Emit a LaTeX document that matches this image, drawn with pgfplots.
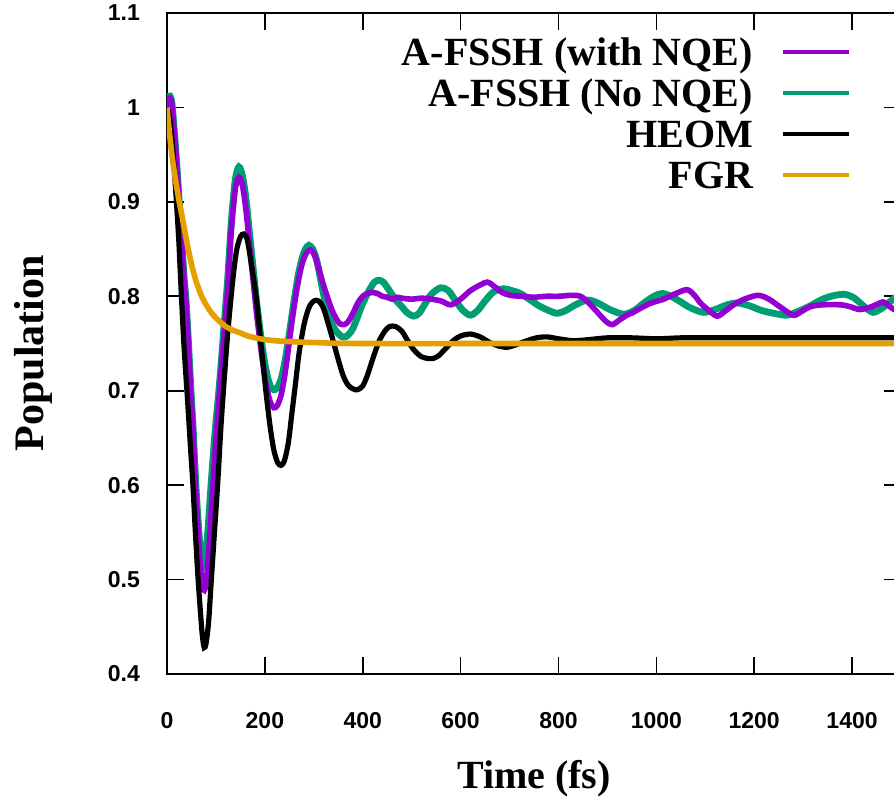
\documentclass[border=0pt]{standalone}
\usepackage{pgfplots}
\pgfplotsset{compat=1.18}
\usepackage{fontspec}
\setmainfont{Liberation Serif}
\newfontfamily\tickfont{Liberation Sans}
\definecolor{cpurple}{HTML}{9400D3}
\definecolor{cgreen}{HTML}{009E73}
\definecolor{corange}{HTML}{E69F00}
\begin{document}
\begin{tikzpicture}
\begin{axis}[
  at={(0,0)}, anchor=south west,
  scale only axis, width=367pt, height=330.5pt,
  xmin=0, xmax=1500, ymin=0.4, ymax=1.1,
  xtick={0,200,400,600,800,1000,1200,1400},
  ytick={0.4,0.5,0.6,0.7,0.8,0.9,1,1.1},
  tick align=inside, major tick length=8.5pt,
  every tick/.style={black, line width=0.8pt},
  axis line style={line width=1.2pt},
  /pgf/number format/assume math mode=true,
  /pgf/number format/set thousands separator={},
  ticklabel style={font=\tickfont\bfseries\fontsize{11.5}{13}\selectfont},
  xticklabel style={yshift=-15.5pt},
  yticklabel style={xshift=-10pt},
  xlabel={\bfseries Time (fs)},
  ylabel={\bfseries Population},
  xlabel style={font=\fontsize{20}{24}\selectfont, at={(axis description cs:0.5,0)}, anchor=base, yshift=-57pt},
  ylabel style={font=\fontsize{21}{25}\selectfont, at={(axis description cs:-0.1826,0.4856)}, anchor=center},
  legend plot pos=right,
  legend cell align=right,
  legend style={draw=none, fill=none, at={(axis description cs:0.9319,0.972)}, anchor=north east,
     inner sep=0pt, outer sep=0pt, column sep=14pt, row sep=0pt,
     font=\bfseries\fontsize{20}{24}\selectfont,
     nodes={inner sep=0pt, text height=16.75pt, text depth=3.75pt}},
  legend image code/.code={\draw[#1, line width=2pt] (0pt,0pt) -- (33pt,0pt);},
]
% green: A-FSSH (No NQE)
\addplot[cgreen, line width=3.4pt, smooth, tension=0.5, forget plot] coordinates {
(0,1.000)(3,1.010)(6,1.012)(10,1.005)(15,0.975)(20,0.940)(25,0.900)(30,0.860)(35,0.820)(39,0.795)
(44,0.750)(49,0.700)(53,0.665)(59,0.600)(64,0.560)(69,0.525)(73,0.513)(78,0.520)(84,0.555)(90,0.600)
(98,0.655)(106,0.700)(112,0.738)(118,0.778)(124,0.818)(130,0.868)(134,0.895)(140,0.925)(147,0.937)
(154,0.928)(161,0.905)(168,0.870)(175,0.835)(183,0.795)(190,0.765)(197,0.738)(204,0.718)(211,0.705)
(218,0.701)(225,0.703)(233,0.712)(240,0.728)(247,0.750)(254,0.775)(260,0.796)(268,0.822)(276,0.840)
(283,0.850)(290,0.854)(298,0.850)(306,0.838)(313,0.820)(320,0.802)(328,0.786)(335,0.774)(343,0.765)
(351,0.760)(358,0.757)(365,0.757)(372,0.760)(380,0.766)(390,0.779)(398,0.790)(406,0.799)(415,0.808)
(424,0.815)(433,0.817)(442,0.815)(452,0.808)(462,0.800)(471,0.794)(480,0.789)(490,0.783)(504,0.779)
(515,0.782)(525,0.790)(540,0.802)(559,0.809)(575,0.806)(590,0.795)(605,0.785)(620,0.780)(635,0.785)
(650,0.795)(668,0.805)(688,0.808)(705,0.806)(722,0.803)(740,0.797)(760,0.790)(780,0.785)(797,0.782)
(815,0.785)(835,0.791)(859,0.796)(880,0.793)(905,0.786)(933,0.781)(955,0.785)(975,0.793)(995,0.800)
(1012,0.803)(1030,0.800)(1050,0.794)(1069,0.788)(1096,0.783)(1120,0.786)(1145,0.791)(1165,0.793)
(1190,0.790)(1215,0.785)(1240,0.782)(1267,0.780)(1290,0.784)(1315,0.790)(1340,0.797)(1365,0.801)
(1386,0.802)(1405,0.798)(1425,0.789)(1443,0.783)(1460,0.787)(1475,0.793)(1486,0.798)(1500,0.801)
};
% purple: A-FSSH (with NQE)
\addplot[cpurple, line width=2.8pt, smooth, tension=0.5, forget plot] coordinates {
(0,1.000)(3,1.008)(6,1.010)(10,1.003)(15,0.973)(20,0.938)(25,0.898)(30,0.857)(35,0.817)(39,0.792)
(44,0.745)(49,0.695)(53,0.658)(59,0.592)(64,0.548)(69,0.510)(75,0.489)(80,0.497)(86,0.535)(92,0.585)
(99,0.640)(106,0.690)(112,0.728)(118,0.768)(124,0.808)(130,0.860)(134,0.885)(140,0.915)(147,0.926)
(154,0.918)(161,0.893)(168,0.858)(175,0.822)(183,0.782)(190,0.752)(197,0.725)(204,0.703)(211,0.688)
(218,0.682)(225,0.684)(233,0.695)(240,0.714)(247,0.740)(254,0.768)(260,0.790)(268,0.815)(276,0.834)
(285,0.846)(294,0.849)(302,0.843)(310,0.830)(318,0.815)(328,0.799)(336,0.787)(345,0.777)(353,0.771)
(362,0.770)(370,0.773)(380,0.782)(390,0.793)(400,0.800)(410,0.803)(420,0.804)(430,0.803)(440,0.800)
(450,0.799)(460,0.797)(470,0.799)(480,0.798)(500,0.797)(520,0.798)(540,0.797)(560,0.795)(580,0.791)
(600,0.797)(620,0.806)(640,0.812)(655,0.815)(670,0.810)(685,0.804)(702,0.801)(725,0.800)(749,0.799)
(775,0.800)(800,0.800)(825,0.801)(845,0.800)(860,0.794)(871,0.788)(885,0.780)(898,0.773)(910,0.770)
(925,0.775)(940,0.780)(953,0.783)(970,0.788)(990,0.793)(1015,0.797)(1040,0.803)(1063,0.807)(1078,0.801)
(1090,0.793)(1105,0.786)(1124,0.779)(1140,0.784)(1158,0.791)(1180,0.797)(1208,0.801)(1230,0.797)
(1255,0.788)(1280,0.780)(1297,0.784)(1314,0.789)(1340,0.791)(1376,0.791)(1396,0.789)(1416,0.786)
(1440,0.789)(1463,0.794)(1475,0.790)(1486,0.786)(1500,0.787)
};
% black: HEOM
\addplot[black, line width=2.6pt, smooth, tension=0.5, forget plot] coordinates {
(0,1.000)(5,0.990)(10,0.968)(18,0.910)(24,0.860)(29,0.805)(35,0.745)(42,0.690)(48,0.640)(53,0.600)
(58,0.550)(63,0.505)(68,0.468)(72,0.442)(76,0.428)(80,0.433)(85,0.455)(90,0.495)(97,0.550)(104,0.605)
(110,0.660)(116,0.705)(124,0.760)(134,0.815)(142,0.848)(150,0.863)(157,0.866)(164,0.860)(172,0.835)
(182,0.800)(192,0.750)(202,0.700)(210,0.665)(218,0.638)(226,0.624)(233,0.621)(240,0.626)(248,0.645)
(255,0.675)(262,0.705)(270,0.740)(280,0.770)(290,0.788)(300,0.795)(310,0.795)(320,0.787)(330,0.770)
(340,0.752)(350,0.733)(360,0.716)(370,0.706)(380,0.702)(389,0.701)(400,0.705)(410,0.717)(420,0.733)
(433,0.752)(445,0.763)(455,0.768)(467,0.768)(480,0.763)(493,0.752)(505,0.743)(520,0.736)(535,0.734)
(543,0.734)(555,0.737)(570,0.745)(585,0.753)(600,0.758)(620,0.760)(640,0.757)(660,0.751)(680,0.747)
(695,0.746)(710,0.748)(730,0.752)(755,0.756)(777,0.757)(800,0.755)(830,0.753)(860,0.754)(900,0.756)
(950,0.756)(1000,0.755)(1050,0.756)(1100,0.756)(1200,0.756)(1300,0.756)(1400,0.756)(1500,0.756)
};
% orange: FGR
\addplot[corange, line width=2.8pt, smooth, tension=0.5, forget plot] coordinates {
(0,1.000)(5,0.973)(10,0.950)(15,0.931)(20,0.915)(25,0.900)(30,0.887)(35,0.873)(40,0.859)(45,0.846)
(50,0.834)(55,0.824)(60,0.815)(70,0.801)(80,0.791)(90,0.783)(104,0.775)(120,0.768)(135,0.764)
(151,0.761)(165,0.758)(190,0.755)(220,0.753)(253,0.752)(300,0.751)(400,0.750)(800,0.750)(1500,0.750)
};
\addlegendimage{cpurple}
\addlegendentry{A-FSSH (with NQE)}
\addlegendimage{cgreen}
\addlegendentry{A-FSSH (No NQE)}
\addlegendimage{black}
\addlegendentry{HEOM}
\addlegendimage{corange}
\addlegendentry{FGR}
\end{axis}
\pgfresetboundingbox
\path[use as bounding box] (-83.5pt,-62.5pt) rectangle (363.5pt,337pt);
\end{tikzpicture}
\end{document}
